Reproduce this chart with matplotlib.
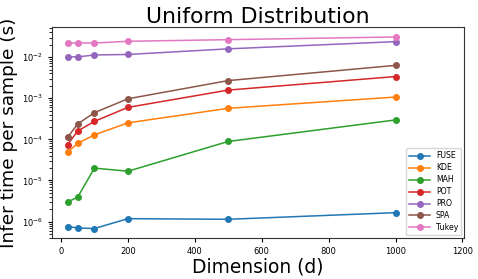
import matplotlib
matplotlib.use("Agg")
import matplotlib.pyplot as plt

# === Data ===
dims = [20, 50, 100, 200, 500, 1000]
fuse = [7.6e-7, 7.0e-7, 6.8e-7, 1.18e-6, 1.14e-6, 1.65e-6]
kde = [4.9e-5, 8.0e-5, 1.29e-4, 2.52e-4, 5.7e-4, 1.07e-3]
mah = [3.0e-6, 3.95e-6, 2.0e-5, 1.68e-5, 8.9e-5, 2.97e-4]
pot = [7.5e-5, 1.6e-4, 2.74e-4, 6.0e-4, 1.58e-3, 3.37e-3]
pro = [1.03e-2, 1.01e-2, 1.13e-2, 1.16e-2, 1.59e-2, 2.38e-2]
spa = [1.13e-4, 2.38e-4, 4.47e-4, 9.7e-4, 2.69e-3, 6.3e-3]
tukey = [2.18e-2, 2.22e-2, 2.2e-2, 2.43e-2, 2.66e-2, 3.09e-2]

methods = ["FUSE", "KDE", "MAH", "POT", "PRO", "SPA", "Tukey"]
series = [fuse, kde, mah, pot, pro, spa, tukey]

fig, ax = plt.subplots(figsize=(4.78, 2.79), dpi=100)

for name, vals in zip(methods, series):
    ax.plot(dims, vals, marker='o', markersize=4, linewidth=1.1, label=name)

ax.set_yscale('log')
ax.set_xlim(-28, 1205)
ax.set_ylim(4.0e-7, 5.3e-2)
ax.set_xticks([0, 200, 400, 600, 800, 1000, 1200])
ax.tick_params(labelsize=6, length=3, width=0.8)
for s in ax.spines.values():
    s.set_color('#333333')

ax.set_title("Uniform Distribution", fontsize=15.8, pad=3)
ax.set_xlabel("Dimension (d)", fontsize=13.4, labelpad=1)
ax.set_ylabel("Infer time per sample (s)", fontsize=13.3)
ax.yaxis.set_label_coords(-0.082, 0.5)
ax.legend(loc='lower right', fontsize=5.6, handlelength=2.6, labelspacing=0.38,
          borderaxespad=0.35)

plt.subplots_adjust(left=0.108, right=0.971, top=0.902, bottom=0.147)
fig.savefig("out.png", dpi=100)
